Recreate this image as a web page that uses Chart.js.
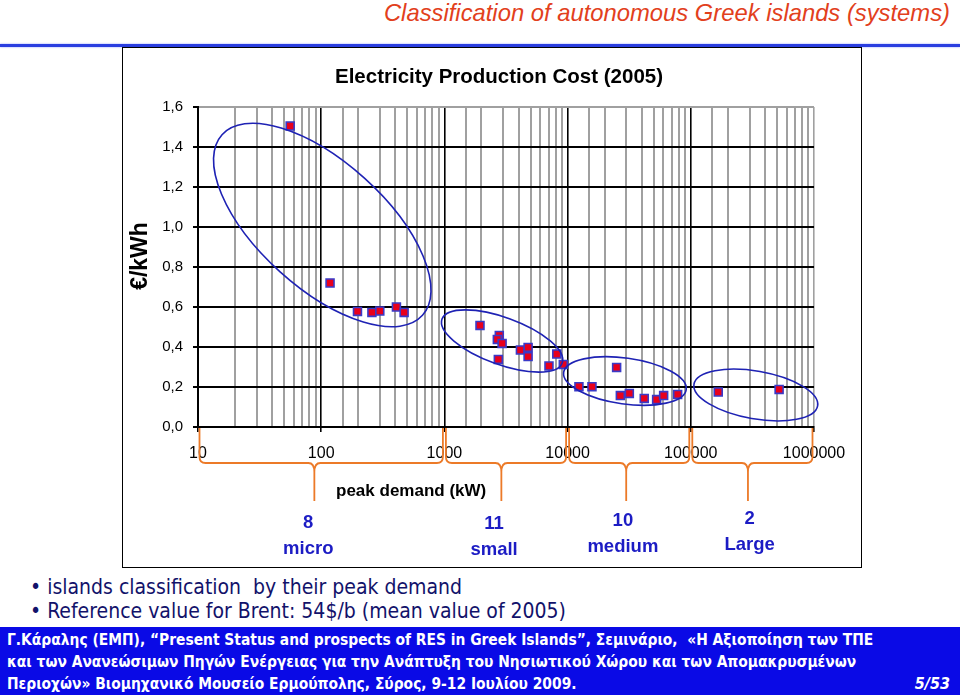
<!DOCTYPE html>
<html>
<head>
<meta charset="utf-8">
<script src="https://cdn.jsdelivr.net/npm/chart.js@4"></script>
<style>
  body { margin: 0; width: 960px; height: 695px; position: relative; overflow: hidden; background: #fff; font-family: "Liberation Sans", Arial, sans-serif; }
  #head { position: absolute; right: 10px; top: -1px; font-style: italic; font-size: 23.8px; color: #e2401c; white-space: nowrap; }
  #rule { position: absolute; left: 0; top: 44px; width: 960px; height: 3px; background: #2a3ee0; box-shadow: 0 0 2px #8090ff; }
  #box { position: absolute; left: 122px; top: 47px; width: 738px; height: 519px; border: 1px solid #000; background: #fff; }
  #box canvas { display: block; }
  #bullets { position: absolute; left: 30px; top: 575px; margin: 0; padding: 0; list-style: none; font-family: "DejaVu Sans Condensed", "DejaVu Sans", sans-serif; font-size: 21px; color: #12126a; line-height: 24px; }
  #foot { position: absolute; left: 0; top: 627px; width: 960px; height: 68px; background: #0a0ae6; color: #fff; font-family: "DejaVu Sans Condensed", "DejaVu Sans", sans-serif; font-weight: bold; font-size: 15.4px; line-height: 22px; }
  #foot .ln { position: absolute; left: 7px; white-space: nowrap; }
  #foot .pg { position: absolute; right: 10px; top: 46px; font-style: italic; font-size: 16px; }
</style>
</head>
<body>
<div id="head">Classification of autonomous Greek islands (systems)</div>
<div id="rule"></div>
<div id="box"><canvas id="chart" width="738" height="519"></canvas></div>
<ul id="bullets">
  <li>• islands classification&nbsp; by their peak demand</li>
  <li>• Reference value for Brent: 54$/b (mean value of 2005)</li>
</ul>
<div id="foot">
  <div class="ln" style="top:2px">Γ.Κάραλης (ΕΜΠ), “Present Status and prospects of RES in Greek Islands”, Σεμινάριο,&nbsp; «Η Αξιοποίηση των ΤΠΕ</div>
  <div class="ln" style="top:24px">και των Ανανεώσιμων Πηγών Ενέργειας για την Ανάπτυξη του Νησιωτικού Χώρου και των Απομακρυσμένων</div>
  <div class="ln" style="top:46px">Περιοχών» Βιομηχανικό Μουσείο Ερμούπολης, Σύρος, 9-12 Ιουλίου 2009.</div>
  <div class="pg">5/53</div>
</div>

<script>
// peak demand (kW) and production cost (€/kWh) per island
const microX = [56, 118, 197, 258, 299, 408, 471];
const microY = [1.505, 0.72, 0.578, 0.573, 0.58, 0.60, 0.573];
const smallX = [1945, 2790, 2690, 2940, 4140, 4780, 4780, 2740, 8170, 7060, 9230];
const smallY = [0.508, 0.458, 0.438, 0.418, 0.385, 0.398, 0.352, 0.338, 0.365, 0.305, 0.313];
const mediumX = [25000, 12360, 15770, 26800, 31700, 41900, 52800, 60200, 78200];
const mediumY = [0.298, 0.2015, 0.2015, 0.157, 0.168, 0.143, 0.137, 0.157, 0.163];
const largeX = [167000, 521000];
const largeY = [0.175, 0.188];

// classes: decade bounds, island counts, names
const classNames = ['micro', 'small', 'medium', 'Large'];
const classCounts = ['8', '11', '10', '2'];
const classBounds = [[10, 1000], [1000, 10000], [10000, 100000], [100000, 1000000]];
const braceTips = [88, 2900, 29900, 291000];
const classLabelX = [78.5, 2530, 28100, 300000];

// annotation ellipses round each group: centre, end of long axis (data space), short/long ratio
const groupEllipses = [
  { c: [102, 1.01], end: [664, 0.5585], ratio: 0.467 },
  { c: [2940, 0.43], end: [9040, 0.3205], ratio: 0.367 },
  { c: [29200, 0.23], end: [91800, 0.187], ratio: 0.37 },
  { c: [337000, 0.16], end: [1070000, 0.1055], ratio: 0.38 }
];

function toPoints(xs, ys) {
  return xs.map(function(v, i) { return { x: v, y: ys[i] }; });
}

function isDecade(v) {
  const l = Math.log10(v);
  return Math.abs(l - Math.round(l)) < 1e-9;
}

const FONT = '"Liberation Sans", Arial, sans-serif';

// draws ellipses, braces, class labels and titles
const annotate = {
  id: 'annotate',
  afterDatasetsDraw(chart) {
    const ctx = chart.ctx, area = chart.chartArea;
    const x = chart.scales.x, y = chart.scales.y;
    ctx.save();

    // group ellipses
    ctx.strokeStyle = '#1e22b4';
    ctx.lineWidth = 1.6;
    groupEllipses.forEach(function(e) {
      const cx = x.getPixelForValue(e.c[0]), cy = y.getPixelForValue(e.c[1]);
      const ex = x.getPixelForValue(e.end[0]), ey = y.getPixelForValue(e.end[1]);
      const a = Math.hypot(ex - cx, ey - cy);
      ctx.beginPath();
      ctx.ellipse(cx, cy, a, a * e.ratio, Math.atan2(ey - cy, ex - cx), 0, 2 * Math.PI);
      ctx.stroke();
    });

    // braces under the axis
    const top = area.bottom + 1, mid = area.bottom + 36, tip = area.bottom + 74, r = 6;
    ctx.strokeStyle = '#ec7a28';
    ctx.lineWidth = 1.8;
    classBounds.forEach(function(b, i) {
      const x0 = x.getPixelForValue(b[0]) + 1.5, x1 = x.getPixelForValue(b[1]) - 1.5;
      const xt = x.getPixelForValue(braceTips[i]);
      ctx.beginPath();
      ctx.moveTo(x0, top);
      ctx.lineTo(x0, mid - r);
      ctx.quadraticCurveTo(x0, mid, x0 + r, mid);
      ctx.lineTo(xt - r, mid);
      ctx.quadraticCurveTo(xt, mid, xt, mid + 9);
      ctx.lineTo(xt, tip);
      ctx.moveTo(xt, mid + 9);
      ctx.quadraticCurveTo(xt, mid, xt + r, mid);
      ctx.lineTo(x1 - r, mid);
      ctx.quadraticCurveTo(x1, mid, x1, mid - r);
      ctx.lineTo(x1, top);
      ctx.stroke();
    });

    // class counts and names
    ctx.fillStyle = '#1c1cc4';
    ctx.font = 'bold 18.5px ' + FONT;
    ctx.textAlign = 'center';
    ctx.textBaseline = 'middle';
    const lift = [0, -1, 2, 4];
    classNames.forEach(function(n, i) {
      const px = x.getPixelForValue(classLabelX[i]);
      ctx.fillText(classCounts[i], px, area.bottom + 96 - lift[i]);
      ctx.fillText(n, px, area.bottom + 122 - lift[i]);
    });

    // x axis title
    ctx.fillStyle = '#000';
    ctx.font = 'bold 17px ' + FONT;
    ctx.fillText('peak demand (kW)', x.getPixelForValue(537), area.bottom + 64);

    // chart title
    ctx.font = 'bold 20.5px ' + FONT;
    ctx.fillText('Electricity Production Cost (2005)', (area.left + area.right) / 2 - 7, 29);

    // y axis title
    ctx.translate(18, 208);
    ctx.rotate(-Math.PI / 2);
    ctx.font = 'bold 23px ' + FONT;
    ctx.fillText('€/kWh', 0, 0);
    ctx.restore();
  }
};

const marker = {
  pointStyle: 'rect',
  pointRadius: 5.6,
  pointHoverRadius: 5.6,
  backgroundColor: '#e8001c',
  borderColor: '#3a3ac8',
  borderWidth: 1.6,
  showLine: false
};

new Chart(document.getElementById('chart'), {
  type: 'scatter',
  data: {
    datasets: [
      Object.assign({ label: 'micro', data: toPoints(microX, microY) }, marker),
      Object.assign({ label: 'small', data: toPoints(smallX, smallY) }, marker),
      Object.assign({ label: 'medium', data: toPoints(mediumX, mediumY) }, marker),
      Object.assign({ label: 'large', data: toPoints(largeX, largeY) }, marker)
    ]
  },
  options: {
    responsive: false,
    animation: false,
    devicePixelRatio: 1,
    layout: { padding: { left: 0, top: 59, right: 47, bottom: 0 } },
    plugins: { legend: { display: false }, tooltip: { enabled: false }, title: { display: false } },
    scales: {
      x: {
        type: 'logarithmic',
        min: 10,
        max: 1000000,
        afterFit: function(s) { s.height = 140; },
        border: { color: '#000', width: 2 },
        grid: {
          color: function(c) {
            const v = c.tick ? c.tick.value : 0;
            if (v === 1000000) return '#a0a0a0';
            return isDecade(v) ? '#000' : '#a0a0a0';
          },
          lineWidth: function(c) { return c.tick && isDecade(c.tick.value) ? 1.6 : 2; },
          tickLength: 5,
          tickColor: function(c) { return c.tick && isDecade(c.tick.value) ? '#000' : 'rgba(0,0,0,0)'; }
        },
        ticks: {
          autoSkip: false,
          maxRotation: 0,
          padding: 12,
          color: '#000',
          font: { family: FONT, size: 16 },
          callback: function(v) { return isDecade(v) ? String(v) : ''; }
        }
      },
      y: {
        min: 0,
        max: 1.6,
        afterFit: function(s) { s.width = 75; },
        border: { color: '#000', width: 2 },
        grid: {
          color: function(c) { return c.tick && Math.abs(c.tick.value - 1.6) < 1e-6 ? '#a0a0a0' : '#000'; },
          lineWidth: 2,
          tickLength: 5,
          tickColor: '#000'
        },
        ticks: {
          stepSize: 0.2,
          padding: 10,
          color: '#000',
          font: { family: FONT, size: 15 },
          callback: function(v) { return v.toFixed(1).replace('.', ','); }
        }
      }
    }
  },
  plugins: [annotate]
});
</script>
</body>
</html>
